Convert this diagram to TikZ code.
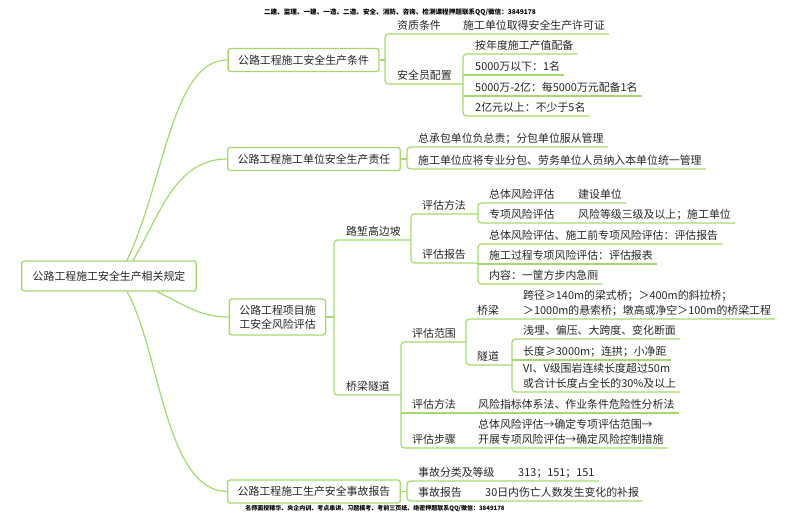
\documentclass[tikz,border=0pt]{standalone}
\usepackage{fontspec}
\setmainfont{Noto Sans CJK SC}
\usepackage{xcolor}
\usepackage{tikz}
\usetikzlibrary{positioning,calc}
\definecolor{mgreen}{HTML}{A6D96A}
\definecolor{mtext}{HTML}{262626}
\newcommand\mmfont{\fontsize{10.9}{15}\selectfont}

\begin{document}
\begin{tikzpicture}[x=1pt, y=-1pt, text=mtext, font=\mmfont,
  topic/.style={draw=mgreen, line width=1.3pt, rounded corners=2.5pt, fill=white, inner xsep=10pt, minimum height=23pt},
  lbl/.style={anchor=south west, inner xsep=0pt, inner ysep=0pt, text depth=4pt, align=left},
  link/.style={draw=mgreen, line width=1.2pt, rounded corners=3.5pt},
  note/.style={font=\fontsize{6.6}{8}\selectfont\bfseries, text=black}]
\useasboundingbox (0,0) rectangle (800,521);
\node[note] (top) at (400,12) {二建、监理、一建、一造、二造、安全、消防、咨询、检测课程押题联系QQ/微信：3849178};
\node[note, font=\fontsize{6}{8}\selectfont\bfseries] (bot) at (375,509) {名师面授精华、央企内训、考点串讲、习题模考、考前三页纸、绝密押题联系QQ/微信：3849178};
% root and main topics
\node[topic, minimum height=30pt, inner xsep=11pt] (root) at (109,276) {公路工程施工安全生产相关规定};
\node[topic] (m1) at (303.5,60) {公路工程施工安全生产条件};
\node[topic] (m2) at (314,159) {公路工程施工单位安全生产责任};
\node[topic, align=center, font=\fontsize{10.9}{14}\selectfont, minimum height=36pt] (m3) at (277.5,317) {公路工程项目施\\工安全风险评估};
\node[topic] (m4) at (314,491.5) {公路工程施工生产安全事故报告};
\draw[link] ([xshift=18pt]root.north) .. controls (165,180) and (172,60) .. (m1.west);
\draw[link] ([xshift=24pt]root.north) .. controls (160,215) and (175,159) .. (m2.west);
\draw[link] ([xshift=48pt]root.south) .. controls (185,305) and (200,317) .. (m3.west);
\draw[link] ([xshift=18pt]root.south) .. controls (160,350) and (165,491) .. (m4.west);
% bracket columns
\coordinate (k1) at (385,0); \coordinate (k2) at (463,0); \coordinate (k3) at (407,0);
\coordinate (k4) at (334,0); \coordinate (k5) at (411,0); \coordinate (k6) at (478,0);
\coordinate (k8) at (401,0); \coordinate (k9) at (466,0); \coordinate (k10) at (512,0);
% branch 1
\node[lbl] (a1) at (397,34) {资质条件}; \node[lbl] (a1x) at (463,34) {施工单位取得安全生产许可证};
\node[lbl] (a2) at (397,84) {安全员配置};
\node[lbl] (a21) at (475,54) {按年度施工产值配备}; \node[lbl] (a22) at (475,75) {5000万以下：1名};
\node[lbl] (a23) at (475,96) {5000万-2亿：每5000万元配备1名}; \node[lbl] (a24) at (475,116) {2亿元以上：不少于5名};
\draw[link] (m1.east) -- (m1.east -| k1);
\draw[link] ([xshift=4pt]a1x.south east) -- (a1.south west -| k1) -- (a2.south west -| k1) -- (a2.south west -| k2);
\draw[link] ([xshift=4pt]a21.south east) -- (a21.south west -| k2) -- (a24.south west -| k2) -- ([xshift=4pt]a24.south east);
\draw[link] (a22.south west -| k2) -- ([xshift=4pt]a22.south east); \draw[link] (a23.south west -| k2) -- ([xshift=4pt]a23.south east);
% branch 2
\node[lbl] (b1) at (418,147) {总承包单位负总责；分包单位服从管理};
\node[lbl] (b2) at (418,169) {施工单位应将专业分包、劳务单位人员纳入本单位统一管理};
\draw[link] (m2.east) -- (m2.east -| k3);
\draw[link] ([xshift=4pt]b1.south east) -- (b1.south west -| k3) -- (b2.south west -| k3) -- ([xshift=4pt]b2.south east);
% branch 3
\node[lbl] (c1) at (346,240) {路堑高边坡}; \node[lbl] (c2) at (346,395) {桥梁隧道};
\draw[link] (m3.east) -- (m3.east -| k4);
\draw[link] (c1.south west -| k5) -- (c1.south west -| k4) -- (c2.south west -| k4) -- (c2.south west -| k8);
\node[lbl] (c11) at (422,214) {评估方法}; \node[lbl] (c12) at (422,263) {评估报告};
\draw[link] (c11.south west -| k6) -- (c11.south west -| k5) -- (c12.south west -| k5) -- (c12.south west -| k6);
\node[lbl] (c111) at (489,203) {总体风险评估}; \node[lbl] (c111x) at (578,203) {建设单位};
\node[lbl] (c112) at (489,223) {专项风险评估}; \node[lbl] (c112x) at (578,223) {风险等级三级及以上；施工单位};
\draw[link] ([xshift=4pt]c111x.south east) -- (c111.south west -| k6) -- (c112.south west -| k6) -- ([xshift=4pt]c112x.south east);
\node[lbl] (c121) at (489,244) {总体风险评估、施工前专项风险评估：评估报告};
\node[lbl] (c122) at (489,264) {施工过程专项风险评估：评估报表};
\node[lbl] (c123) at (489,284) {内容：一筐方步内急厕};
\draw[link] ([xshift=4pt]c121.south east) -- (c121.south west -| k6) -- (c123.south west -| k6) -- ([xshift=4pt]c123.south east);
\draw[link] (c122.south west -| k6) -- ([xshift=4pt]c122.south east);
\node[lbl] (c21) at (412,342) {评估范围}; \node[lbl] (c22) at (412,413) {评估方法}; \node[lbl] (c23) at (412,448) {评估步骤};
\node[lbl] (c22x) at (478,413) {风险指标体系法、作业条件危险性分析法};
\node[lbl] (c23x) at (478,448) {总体风险评估→确定专项评估范围→\\开展专项风险评估→确定风险控制措施};
\draw[link] (c21.south west -| k9) -- (c21.south west -| k8) -- (c23.south west -| k8) -- ([xshift=4pt]c23x.south east);
\draw[link] (c22.south west -| k8) -- ([xshift=4pt]c22x.south east);
\node[lbl] (c211) at (477,319) {桥梁}; \node[lbl] (c212) at (477,365) {隧道};
\node[lbl] (c211x) at (523,319) {跨径≥140m的梁式桥；＞400m的斜拉桥；\\＞1000m的悬索桥；墩高或净空＞100m的桥梁工程};
\draw[link] ([xshift=4pt]c211x.south east) -- (c211.south west -| k9) -- (c212.south west -| k9) -- (c212.south west -| k10);
\node[lbl] (c2121) at (523,339) {浅埋、偏压、大跨度、变化断面};
\node[lbl] (c2122) at (523,360) {长度≥3000m；连拱；小净距};
\node[lbl] (c2123) at (523,392) {VI、V级围岩连续长度超过50m\\或合计长度占全长的30\%及以上};
\draw[link] ([xshift=4pt]c2121.south east) -- (c2121.south west -| k10) -- (c2123.south west -| k10) -- ([xshift=4pt]c2123.south east);
\draw[link] (c2122.south west -| k10) -- ([xshift=4pt]c2122.south east);
% branch 4
\node[lbl] (d1) at (418,481) {事故分类及等级}; \node[lbl] (d1x) at (518,481) {313；151；151};
\node[lbl] (d2) at (418,501) {事故报告}; \node[lbl] (d2x) at (485,501) {30日内伤亡人数发生变化的补报};
\draw[link] (m4.east) -- (m4.east -| k3);
\draw[link] ([xshift=4pt]d1x.south east) -- (d1.south west -| k3) -- (d2.south west -| k3) -- ([xshift=4pt]d2x.south east);
\end{tikzpicture}
\end{document}
